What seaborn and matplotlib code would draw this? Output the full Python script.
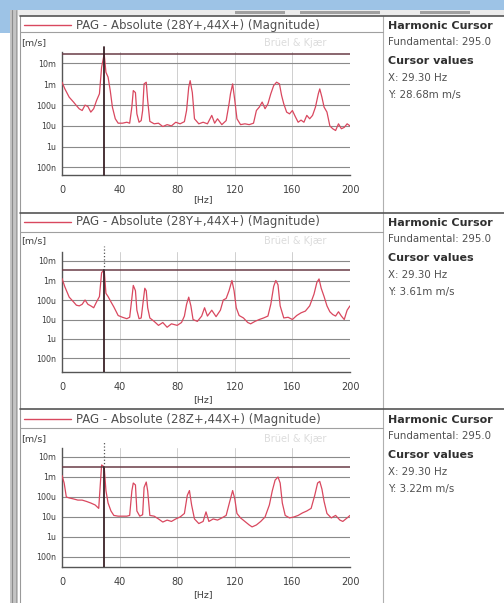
import math
import matplotlib
matplotlib.use("Agg")
import matplotlib.pyplot as plt
import seaborn as sns
from matplotlib.lines import Line2D
from matplotlib.patches import Rectangle
from matplotlib.ticker import NullLocator

W, H = 504, 603

# ---------------- data ----------------
freq_1 = [0, 2, 5, 8, 10, 12, 14, 16, 18, 20, 22, 24, 26, 27.5, 29.3, 30.5, 32, 33.5, 35, 37, 39, 42, 45, 47,
          48.5, 49.5, 51, 52, 53.5, 55, 56, 57, 58.5, 59.5, 61, 64, 67, 70, 73, 76, 79, 82, 85, 86.5, 88, 89,
          90.5, 92, 95, 98, 101, 104, 106, 108, 111, 114, 116, 117, 118.5, 120, 121.5, 124, 127, 130, 133,
          135, 137, 139, 141, 143, 145, 147, 149, 151, 152.5, 154, 156, 158, 160, 162, 164, 166, 168, 170,
          172, 174, 176, 178, 179, 180.5, 182, 184, 186, 188, 190, 192, 194, 196, 198, 200]
mag_1 = [1.26e-3, 6e-4, 2.4e-4, 1.4e-4, 9.5e-5, 6.6e-5, 5.5e-5, 1e-4, 8.5e-5, 4.6e-5, 6.7e-5, 1.66e-4, 3.5e-4,
         6.6e-3, 28.68e-3, 3.8e-3, 2.2e-3, 5e-4, 8e-5, 2.2e-5, 1.35e-5, 1.35e-5, 1.5e-5, 1.35e-5,
         8e-5, 5e-4, 4e-4, 3.8e-5, 1.5e-5, 1.8e-5, 5.5e-5, 1.05e-3, 1.26e-3, 1.66e-4, 1.65e-5, 1.26e-5,
         1.35e-5, 9.3e-6, 1.15e-5, 1e-5, 1.5e-5, 1.26e-5, 1.6e-5, 5.5e-5, 7.2e-4, 1.5e-3,
         4e-4, 2.2e-5, 1.26e-5, 1.5e-5, 1.26e-5, 3.2e-5, 1.35e-5, 2.2e-5, 1.15e-5, 1.8e-5, 1.15e-4, 3.5e-4,
         1.05e-3, 1.66e-4, 2.2e-5, 1.15e-5, 1.26e-5, 1.15e-5, 1.35e-5,
         5.5e-5, 8e-5, 1.4e-4, 6.7e-5, 1.15e-4, 3.5e-4, 8.7e-4, 1.26e-3, 1.05e-3, 2.9e-4, 1.15e-4, 4.6e-5,
         3.8e-5, 5.5e-5, 2.8e-5, 1.5e-5, 1.9e-5, 1.5e-5, 3.2e-5,
         2.2e-5, 3.2e-5, 8e-5, 3.5e-4, 6e-4, 2.4e-4, 8e-5, 4.6e-5, 1e-5, 7.3e-6, 6e-6, 1.26e-5, 7.3e-6,
         8.5e-6, 1.26e-5, 1e-5]

freq_2 = [0, 2, 5, 8, 10, 12, 14, 16, 18, 20, 22, 24, 26, 27.5, 29.3, 30.5, 32, 34, 36, 39, 42, 45, 47,
          48.5, 49.5, 51, 52, 53.5, 55, 56.5, 57.5, 58.5, 59.5, 61, 64, 67, 70, 73, 76, 80, 83, 85, 86.5, 88,
          89.5, 91, 94, 97, 99, 101, 104, 107, 110, 112, 114, 116, 118, 119.5, 121, 123, 126, 129, 131, 134,
          137, 140, 143, 145, 147, 148.5, 150, 151.5, 154, 157, 160, 163, 166, 169, 172, 175, 177, 178.5, 180,
          182, 184, 186, 188, 190, 192, 194, 196, 198, 200]
mag_2 = [1.26e-3, 4.7e-4, 1.4e-4, 8e-5, 5.4e-5, 5e-5, 6e-5, 1e-4, 6e-5, 5e-5, 4e-5, 8e-5, 1.5e-4, 2.5e-3,
         3.61e-3, 2.2e-4, 1.5e-4, 8e-5, 4.4e-5, 1.6e-5, 1.3e-5, 1.1e-5, 1.3e-5,
         1.2e-4, 5.6e-4, 3e-4, 3e-5, 1.1e-5, 1.2e-5, 1e-4, 4e-4, 3e-4, 4e-5, 1.2e-5, 8e-6, 5e-6, 7e-6, 4e-6,
         6e-6, 5e-6, 7e-6, 1.5e-5, 6e-5, 1.4e-4,
         5e-5, 1e-5, 8e-6, 1.5e-5, 4e-5, 1.5e-5, 3e-5, 1.4e-5, 3e-5, 1e-4, 1.2e-4, 3e-4, 1e-3, 3e-4, 4e-5,
         1.6e-5, 1.2e-5, 7e-6, 6e-6, 8e-6,
         1e-5, 1.2e-5, 1.5e-5, 6e-5, 5e-4, 1e-3, 6e-4, 5e-5, 1.2e-5, 1.3e-5, 1e-5, 1.6e-5, 2.2e-5, 2.7e-5,
         5e-5, 2e-4, 8e-4, 1.2e-3, 4e-4,
         1.5e-4, 5e-5, 2.5e-5, 1.8e-5, 1.5e-5, 2.5e-5, 1.5e-5, 1e-5, 3e-5, 5e-5]

freq_3 = [0, 1.5, 3, 5, 8, 11, 14, 17, 20, 23, 25.5, 27.5, 29.3, 30.5, 32, 34, 36, 39, 42, 45, 47, 48.5, 49.5,
          51, 52, 54, 56, 57, 58.5, 59.5, 61, 64, 67, 70, 73, 76, 79, 82, 85, 87, 88.5, 90, 92, 95, 98, 100,
          102, 105, 108, 111, 114, 116.5, 118.5, 120, 121.5, 124, 127, 130, 132, 135, 138, 141, 144, 146, 148,
          150, 151.5, 153, 155, 158, 161, 164, 167, 170, 173, 175.5, 177.5, 179, 180.5, 182, 184, 187, 190,
          193, 195, 198, 200]
mag_3 = [1.2e-3, 5e-4, 1e-4, 9e-5, 8e-5, 7e-5, 7e-5, 6e-5, 5e-5, 4e-5, 2.7e-5, 4e-3, 3.22e-3, 2.1e-4, 5e-5,
         2e-5, 1.2e-5, 1.1e-5, 1.1e-5, 1.1e-5, 1.2e-5, 2e-4, 5e-4,
         4e-4, 2e-5, 1.1e-5, 1.3e-5, 3e-4, 5.6e-4, 2e-4, 1.2e-5, 1.1e-5, 8e-6, 5.6e-6, 7e-6, 6e-6, 8e-6,
         1e-5, 1.5e-5, 1.2e-4, 2.1e-4, 4e-5, 8e-6, 4.7e-6, 6e-6, 1.8e-5,
         6e-6, 8e-6, 7e-6, 9e-6, 1.2e-5, 6e-5, 2.1e-4, 8e-5, 1.5e-5, 9e-6, 6e-6, 4e-6, 3.2e-6, 4e-6, 6e-6,
         1e-5, 4e-5, 2e-4, 7e-4,
         1e-3, 5e-4, 5e-5, 1.2e-5, 9e-6, 1e-5, 1.2e-5, 1.6e-5, 2e-5, 2.7e-5, 1.2e-4, 5e-4, 6e-4, 2.5e-4,
         6e-5, 1.5e-5, 9e-6, 1.2e-5,
         7e-6, 6e-6, 9e-6, 1.2e-5]

titles = ["PAG - Absolute (28Y+,44X+) (Magnitude)",
          "PAG - Absolute (28Y+,44X+) (Magnitude)",
          "PAG - Absolute (28Z+,44X+) (Magnitude)"]
cursor_x = [29.3, 29.3, 29.3]
cursor_y = [28.68e-3, 3.61e-3, 3.22e-3]
cursor_x_text = ["X: 29.30 Hz", "X: 29.30 Hz", "X: 29.30 Hz"]
cursor_y_text = ["Y: 28.68m m/s", "Y: 3.61m m/s", "Y: 3.22m m/s"]
fundamental_text = "Fundamental: 295.0"
x_ticks = [0, 40, 80, 120, 160, 200]
y_ticks = [1e-2, 1e-3, 1e-4, 1e-5, 1e-6, 1e-7]
y_tick_labels = ["10m", "1m", "100u", "10u", "1u", "100n"]

series = [(freq_1, mag_1), (freq_2, mag_2), (freq_3, mag_3)]

# ---------------- layout (pixels) ----------------
panels = [
    dict(sep=16, header=25, hline=32, unit=43, top=52, bottom=175, y10m=63.5, dec=20.8, xl=200),
    dict(sep=213, header=222, hline=232, unit=241, top=252, bottom=372, y10m=261, dec=19.5, xl=400),
    dict(sep=409, header=419, hline=428, unit=439, top=448, bottom=567, y10m=457, dec=20.0, xl=595),
]
AX_L, AX_R = 62, 350
SPLIT = 383

sns.set_style("white")
plt.rcParams['font.family'] = ['DejaVu Sans']

fig = plt.figure(figsize=(W / 100, H / 100), dpi=100)
fig.patch.set_facecolor("white")


def fx(x):
    return x / W


def fy(y):
    return 1 - y / H


def rect(x, y, w, h, color, z=0):
    fig.add_artist(Rectangle((fx(x), fy(y + h)), w / W, h / H, transform=fig.transFigure,
                             facecolor=color, edgecolor="none", zorder=z))


def line(x0, y0, x1, y1, color, lw=1.0, ls="-", z=1):
    fig.add_artist(Line2D([fx(x0), fx(x1)], [fy(y0), fy(y1)], transform=fig.transFigure,
                          color=color, lw=lw, ls=ls, zorder=z))


# window chrome
rect(0, 0, W, 10, "#9dc3e6")
rect(0, 0, 10, 33, "#9dc3e6")
rect(10, 10, W - 10, 6, "#ececec")
for x0, w in [(235, 50), (300, 80), (420, 50)]:
    rect(x0, 11, w, 3, "#a0a0a0")
rect(10, 10, 8, H - 10, "#c4c4c4")
line(12, 10, 12, H, "#8c8c8c", lw=0.8)
line(16, 10, 16, H, "#9a9a9a", lw=0.6)
line(20, 16, 20, H, "#9a9a9a", lw=0.8)
line(SPLIT, 16, SPLIT, H, "#b0b0b0", lw=0.8)

for i, p in enumerate(panels):
    line(20, p["sep"], W, p["sep"], "#555555", lw=1.2)
    line(20, p["hline"], SPLIT, p["hline"], "#a0a0a0", lw=0.8)

    # header
    line(24, p["header"], 71, p["header"], "#d9485f", lw=1.0)
    fig.text(fx(76), fy(p["header"]), titles[i], fontsize=8.5, color="#505050", va="center", ha="left")
    fig.text(fx(21), fy(p["unit"]), "[m/s]", fontsize=6.8, color="#404040", va="center", ha="left")
    fig.text(fx(295), fy(p["unit"]), "Brüel & Kjær", fontsize=7, color="#dcdcdc", va="center", ha="center")
    fig.text(fx(203), fy(p["xl"]), "[Hz]", fontsize=6.8, color="#404040", va="center", ha="center")

    # right info panel
    ry = p["header"] + 1
    fig.text(fx(388), fy(ry), "Harmonic Cursor", fontsize=8, fontweight="bold", color="#303030", va="center")
    fig.text(fx(388), fy(ry + 16), fundamental_text, fontsize=7.4, color="#505050", va="center")
    fig.text(fx(388), fy(ry + 35), "Cursor values", fontsize=8, fontweight="bold", color="#303030", va="center")
    fig.text(fx(388), fy(ry + 52), cursor_x_text[i], fontsize=7.4, color="#505050", va="center")
    fig.text(fx(388), fy(ry + 69), cursor_y_text[i], fontsize=7.4, color="#505050", va="center")

    # axes
    ax = fig.add_axes([fx(AX_L), fy(p["bottom"]), (AX_R - AX_L) / W, (p["bottom"] - p["top"]) / H])
    ax.set_facecolor("white")
    ytop = 10 ** (-2 + (p["y10m"] - p["top"]) / p["dec"])
    ybot = 10 ** (-2 - (p["bottom"] - p["y10m"]) / p["dec"])
    ax.set_yscale("log")
    ax.set_ylim(ybot, ytop)
    ax.set_xlim(0, 200)

    f, m = series[i]
    sns.lineplot(x=f, y=m, ax=ax, color="#d9485f", lw=0.9, estimator=None, sort=False, zorder=3)

    ax.set_xticks(x_ticks)
    ax.set_xticklabels([str(t) for t in x_ticks])
    ax.set_yticks(y_ticks)
    ax.set_yticklabels(y_tick_labels)
    ax.yaxis.set_minor_locator(NullLocator())
    ax.tick_params(axis="y", which="major", direction="out", length=3, width=0.8, color="#555555",
                   labelsize=5.8, labelcolor="#404040", pad=1)
    ax.tick_params(axis="x", which="major", direction="out", length=3, width=0.8, color="#555555",
                   labelsize=7, labelcolor="#404040", pad=4)
    ax.set_xlabel("")
    ax.set_ylabel("")
    ax.grid(axis="y", color="#8a8a8a", lw=0.8)
    ax.grid(axis="x", color="#cfcfcf", lw=0.7)
    ax.set_axisbelow(True)
    for s in ["top", "right"]:
        ax.spines[s].set_visible(False)
    for s in ["left", "bottom"]:
        ax.spines[s].set_color("#555555")
        ax.spines[s].set_linewidth(1.0)

    # cursor
    ax.axhline(cursor_y[i], color="#6a3c46", lw=1.1, zorder=4)
    frac = (math.log10(cursor_y[i]) - math.log10(ybot)) / (math.log10(ytop) - math.log10(ybot))
    if i == 0:
        ax.axvline(cursor_x[i], ymin=0, ymax=1.04, color="#3a2228", lw=1.3, zorder=5, clip_on=False)
    else:
        ax.axvline(cursor_x[i], ymin=0, ymax=frac, color="#3a2228", lw=1.3, zorder=5)
        ax.axvline(cursor_x[i], ymin=frac, ymax=1.05, color="#555555", lw=0.9, ls=":", zorder=5,
                   clip_on=False)

fig.savefig("out.png", dpi=100, facecolor="white")
